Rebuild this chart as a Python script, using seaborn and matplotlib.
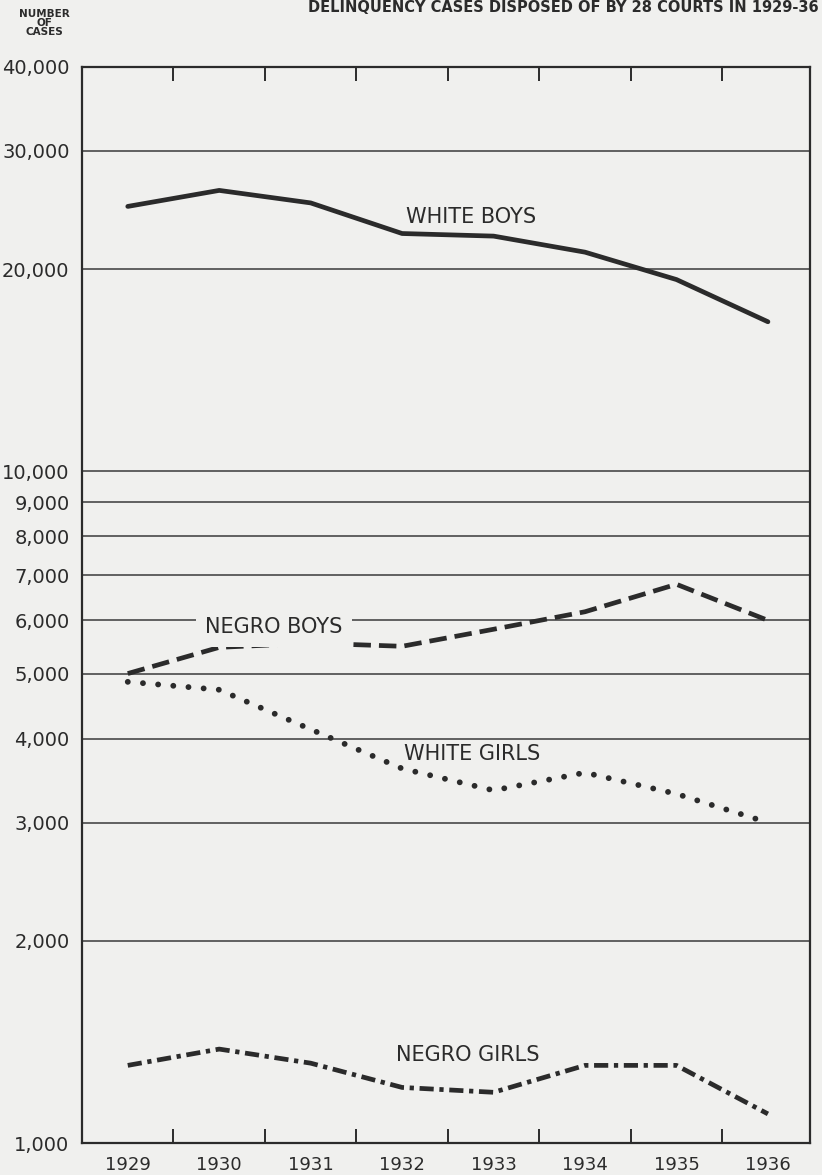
import seaborn as sns
import matplotlib.pyplot as plt
import matplotlib.ticker as mtick
import pandas as pd
import numpy as np

# Data (log scale, number of cases)
years = ['1929', '1930', '1931', '1932', '1933', '1934', '1935', '1936']
white_boys = [24800, 26200, 25100, 22600, 22400, 21200, 19300, 16700]
negro_boys = [5000, 5470, 5550, 5490, 5820, 6180, 6790, 6000]
white_girls = [4860, 4730, 4130, 3610, 3350, 3560, 3310, 3000]
negro_girls = [1305, 1380, 1315, 1210, 1190, 1305, 1305, 1105]

series_names = ['WHITE BOYS', 'NEGRO BOYS', 'WHITE GIRLS', 'NEGRO GIRLS']
y_ticks = [1000, 2000, 3000, 4000, 5000, 6000, 7000, 8000, 9000,
           10000, 20000, 30000, 40000]

df = pd.DataFrame({
    'pos': list(range(len(years))) * 4,
    'Cases': white_boys + negro_boys + white_girls + negro_girls,
    'Series': np.repeat(series_names, len(years)),
})

bg = '#f0f0ee'
ink = '#2b2b2b'

# line styles per series: (linestyle, capstyle, width)
styles = {
    'WHITE BOYS': ('-', 'round', 3.4),
    'NEGRO BOYS': ((0, (3.7, 1.7)), 'butt', 3.4),
    'WHITE GIRLS': ((0, (0.01, 2.6)), 'round', 4.2),
    'NEGRO GIRLS': ((0, (3.0, 1.2, 0.9, 1.2)), 'butt', 3.4),
}

# label placement (x position, value)
label_pos = {
    'WHITE BOYS': (3.75, 23900),
    'NEGRO BOYS': (1.6, 5860),
    'WHITE GIRLS': (3.77, 3790),
    'NEGRO GIRLS': (3.72, 1353),
}

sns.set_style("white")
plt.rcParams['font.family'] = ['DejaVu Sans']

fig, ax = plt.subplots(figsize=(8.22, 11.75), dpi=100)
fig.patch.set_facecolor(bg)
ax.set_facecolor(bg)
fig.subplots_adjust(left=0.0998, right=0.9854, bottom=0.0272, top=0.943)

ax.set_yscale('log')

for name in series_names:
    sub = df[df['Series'] == name]
    ls, cap, lw = styles[name]
    sns.lineplot(data=sub, x='pos', y='Cases', ax=ax, color=ink,
                 linewidth=lw, zorder=3)
    line = ax.lines[-1]
    line.set_linestyle(ls)
    line.set_dash_capstyle(cap)
    line.set_solid_capstyle('round')
    line.set_solid_joinstyle('round')

for name in series_names:
    x, y = label_pos[name]
    box = dict(boxstyle='square,pad=0.45', facecolor=bg, edgecolor='none') if name == 'NEGRO BOYS' else None
    ax.text(x, y, name, ha='center', va='center', fontsize=15, color=ink,
            bbox=box, zorder=4)

# horizontal rules
for v in y_ticks[1:-1]:
    ax.axhline(v, color='#3a3a3a', linewidth=1.1, zorder=1)

ax.set_ylim(1000, 40000)
ax.set_xlim(-0.5, 7.46)
ax.set_yticks(y_ticks)
ax.yaxis.set_major_formatter(mtick.FuncFormatter(lambda v, _: f"{v:,.0f}"))
ax.yaxis.set_minor_locator(mtick.NullLocator())
ax.tick_params(axis='y', length=0, pad=9, labelsize=14, labelcolor=ink)

ax.set_xticks(range(len(years)))
ax.set_xticklabels(years)
ax.set_xticks(np.arange(0.5, len(years) - 1, 1), minor=True)
ax.tick_params(axis='x', which='major', length=0, pad=9, labelsize=13, labelcolor=ink)
ax.tick_params(axis='x', which='minor', direction='in', length=10, width=1.4,
               top=True, bottom=True, color=ink)

for s in ax.spines.values():
    s.set_visible(True)
    s.set_color(ink)
    s.set_linewidth(1.6)

ax.set_xlabel("")
ax.set_ylabel("")
ax.grid(False)

fig.text(0.0535, 1 - 23 / 1175, "NUMBER\nOF\nCASES", ha='center', va='center',
         fontsize=7.5, fontweight='bold', color=ink, linespacing=0.85)
fig.text(0.996, 1 - 8 / 1175, "DELINQUENCY CASES DISPOSED OF BY 28 COURTS IN 1929-36",
         ha='right', va='center', fontsize=10.5, fontweight='bold', color=ink)

fig.savefig('out.png', dpi=100, facecolor=bg)
